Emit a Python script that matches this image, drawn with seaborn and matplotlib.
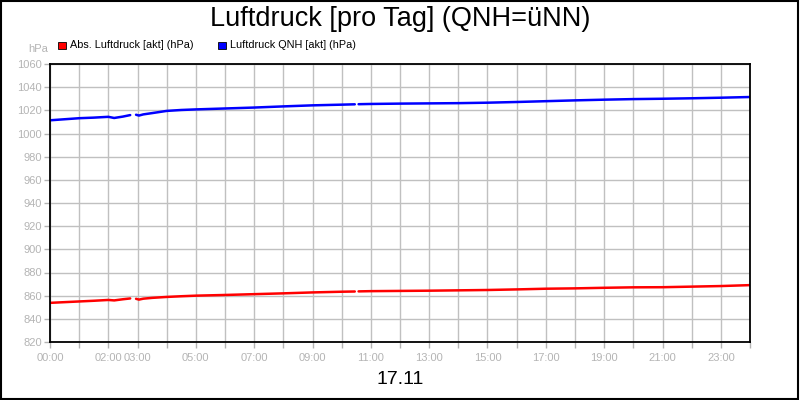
import numpy as np
import pandas as pd
import matplotlib
matplotlib.use("Agg")
import matplotlib.pyplot as plt
from matplotlib.patches import Rectangle
import seaborn as sns

sns.set_style("white")
plt.rcParams['font.family'] = ['Liberation Sans', 'DejaVu Sans']
plt.rcParams['text.color'] = 'black'

# hours of the day; the record has two short gaps (seg = piece number)
hours = [0, 0.5, 1, 1.5, 2, 2.2, 2.5, 2.75,
         2.95, 3.05, 3.2, 3.5, 4, 4.5, 5, 6, 7, 8, 9, 10, 10.45,
         10.58, 11, 12, 13, 14, 15, 16, 17, 18, 19, 20, 21, 22, 23, 24]
seg = [0] * 8 + [1] * 13 + [2] * 15
qnh = [1011.4, 1012.3, 1013.2, 1013.7, 1014.4, 1013.4, 1014.6, 1015.9,
       1016.2, 1015.5, 1016.5, 1017.6, 1019.5, 1020.3, 1020.8, 1021.6, 1022.4, 1023.4, 1024.3, 1024.9, 1025.2,
       1025.3, 1025.5, 1025.8, 1026.0, 1026.2, 1026.6, 1027.2, 1027.9, 1028.6,
       1029.2, 1029.7, 1030.0, 1030.4, 1030.9, 1031.5]
abs_p = [853.8, 854.4, 855.0, 855.6, 856.3, 855.9, 856.9, 857.6,
         857.3, 856.6, 857.4, 858.1, 858.9, 859.5, 860.0, 860.6, 861.3, 862.0, 862.8, 863.4, 863.6,
         863.7, 863.9, 864.1, 864.3, 864.6, 864.9, 865.4, 866.0, 866.3,
         866.8, 867.2, 867.3, 867.8, 868.3, 869.1]

df = pd.DataFrame({"Stunde": hours, "seg": seg, "QNH": qnh, "Abs": abs_p})

fig = plt.figure(figsize=(8, 4), dpi=100)
ax = fig.add_axes([0.0625, 0.145, 0.875, 0.695])

sns.lineplot(data=df, x="Stunde", y="Abs", units="seg", estimator=None,
             color="#ff0000", linewidth=1.8, ax=ax)
sns.lineplot(data=df, x="Stunde", y="QNH", units="seg", estimator=None,
             color="#0000ff", linewidth=1.8, ax=ax)

ax.set_xlim(0, 24)
ax.set_ylim(820, 1060)
ax.set_xlabel("")
ax.set_ylabel("")

ax.set_xticks(range(0, 25))
labels = ["00:00", "", "02:00", "03:00", "", "05:00", "", "07:00", "", "09:00", "", "11:00", "",
          "13:00", "", "15:00", "", "17:00", "", "19:00", "", "21:00", "", "23:00", ""]
ax.set_xticklabels(labels)
ax.set_yticks(range(820, 1061, 20))

grey = "#b4b4b4"
ax.grid(True, color="#c0c0c0", linewidth=1)
ax.set_axisbelow(True)
ax.tick_params(axis="both", colors=grey, labelsize=8, length=4, width=1, direction="out")
ax.tick_params(axis="x", pad=4)
ax.tick_params(axis="y", pad=2)
ax.tick_params(bottom=True, left=True)
for s in ax.spines.values():
    s.set_color("black")
    s.set_linewidth(1.3)

fig.text(0.5, 0.952, "Luftdruck [pro Tag] (QNH=üNN)", ha="center", va="center", fontsize=19.5)
fig.text(0.5, 0.05, "17.11", ha="center", va="center", fontsize=14)
fig.text(0.048, 0.878, "hPa", ha="center", va="center", fontsize=8, color=grey)

# legend boxes
fig.patches.append(Rectangle((0.073, 0.878), 0.009, 0.018, transform=fig.transFigure,
                             facecolor="#ff0000", edgecolor="black", linewidth=0.6))
fig.text(0.087, 0.888, "Abs. Luftdruck [akt] (hPa)", ha="left", va="center", fontsize=7.8)
fig.patches.append(Rectangle((0.273, 0.878), 0.009, 0.018, transform=fig.transFigure,
                             facecolor="#0000ff", edgecolor="black", linewidth=0.6))
fig.text(0.287, 0.888, "Luftdruck QNH [akt] (hPa)", ha="left", va="center", fontsize=7.8)

# frame around the whole picture
fig.patches.append(Rectangle((0.001, 0.002), 0.997, 0.995, transform=fig.transFigure,
                             facecolor="none", edgecolor="black", linewidth=1.5))

fig.savefig("out.png", dpi=100)
